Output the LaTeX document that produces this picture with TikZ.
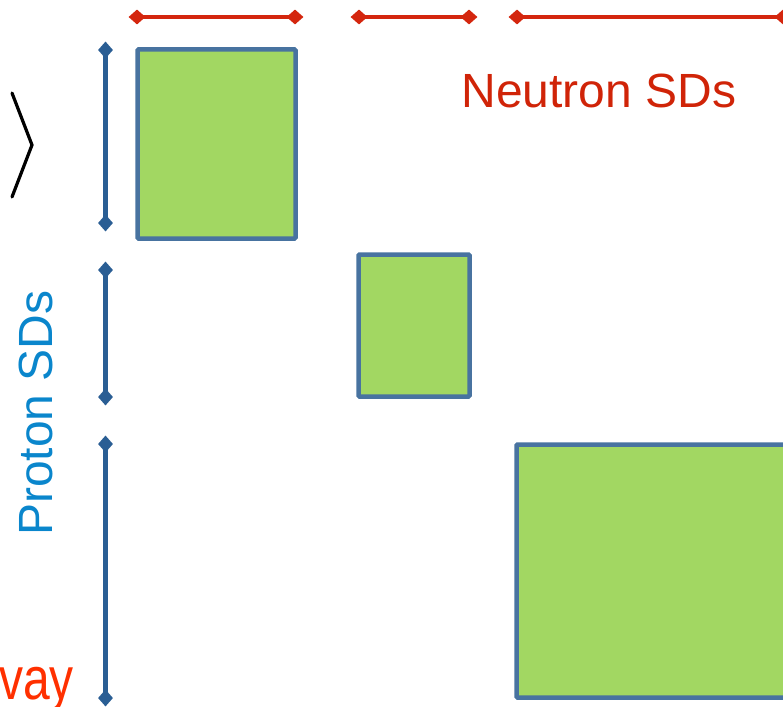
\documentclass[tikz,border=0pt]{standalone}
\usepackage{fontspec}
\setmainfont{Liberation Sans}
\usetikzlibrary{shapes.geometric}
\definecolor{nred}{RGB}{208,36,8}
\definecolor{lred}{RGB}{212,38,14}
\definecolor{pblue}{RGB}{10,134,204}
\definecolor{lblue}{RGB}{42,94,148}
\definecolor{bordblue}{RGB}{72,115,160}
\definecolor{boxgreen}{RGB}{162,215,98}
\definecolor{wayred}{RGB}{255,48,0}
\tikzset{
  sdbox/.style={draw=bordblue, fill=boxgreen, line width=4.5pt, rounded corners=1pt},
  ndiam/.style={diamond, fill=lred, inner sep=0pt, minimum width=17pt, minimum height=15pt},
  pdiam/.style={diamond, fill=lblue, inner sep=0pt, minimum width=15pt, minimum height=17pt},
  nline/.style={draw=lred, line width=4.8pt},
  pline/.style={draw=lblue, line width=4.8pt},
  bigtext/.style={inner sep=0pt, font=\fontsize{48}{58}\selectfont}
}
\begin{document}
\begin{tikzpicture}[x=1pt,y=-1pt]
\useasboundingbox (0,0) rectangle (783,706);
\clip (0,0) rectangle (783,706);
% boxes
\draw[sdbox] (137.5,49.5) rectangle (295.5,238.5);
\node[inner sep=0pt, minimum size=0pt] (b1) at (216.5,144) {};
\draw[sdbox] (358.5,254.5) rectangle (469.5,396.5);
\node[inner sep=0pt, minimum size=0pt] (b2) at (414,325.5) {};
\draw[sdbox] (516.5,444.5) rectangle (800,697.5);
\node[inner sep=0pt, minimum size=0pt] (b3) at (650,571) {};
% neutron lines
\node[ndiam] (n1a) at (137,17) {};
\node[ndiam] (n1b) at (295,17) {};
\node[ndiam] (n2a) at (359,17) {};
\node[ndiam] (n2b) at (469,17) {};
\node[ndiam] (n3a) at (517,17) {};
\node[ndiam] (n3b) at (783,17) {};
\draw[nline] (n1a.center) -- (n1b.center);
\draw[nline] (n2a.center) -- (n2b.center);
\draw[nline] (n3a.center) -- (n3b.center);
% proton lines
\node[pdiam] (p1a) at (105.5,50) {};
\node[pdiam] (p1b) at (105.5,223) {};
\node[pdiam] (p2a) at (105.5,270) {};
\node[pdiam] (p2b) at (105.5,397) {};
\node[pdiam] (p3a) at (105.5,444) {};
\node[pdiam] (p3b) at (105.5,698) {};
\draw[pline] (p1a.center) -- (p1b.center);
\draw[pline] (p2a.center) -- (p2b.center);
\draw[pline] (p3a.center) -- (p3b.center);
% labels
\node[bigtext, text=nred, anchor=base] (neut) at (599,107) {Neutron SDs};
\node[bigtext, text=pblue, anchor=base, rotate=90] (prot) at (52,413) {Proton SDs};
\node[inner sep=0pt, anchor=base west, text=wayred, xscale=0.8, font=\fontsize{60}{70}\selectfont] (way) at (-1,699) {vay};
% angle bracket
\coordinate (k1) at (12,93);
\coordinate (k2) at (32,145);
\coordinate (k3) at (12,197);
\draw[line width=3.2pt, line cap=round] (k1) -- (k2) -- (k3);
\end{tikzpicture}
\end{document}
